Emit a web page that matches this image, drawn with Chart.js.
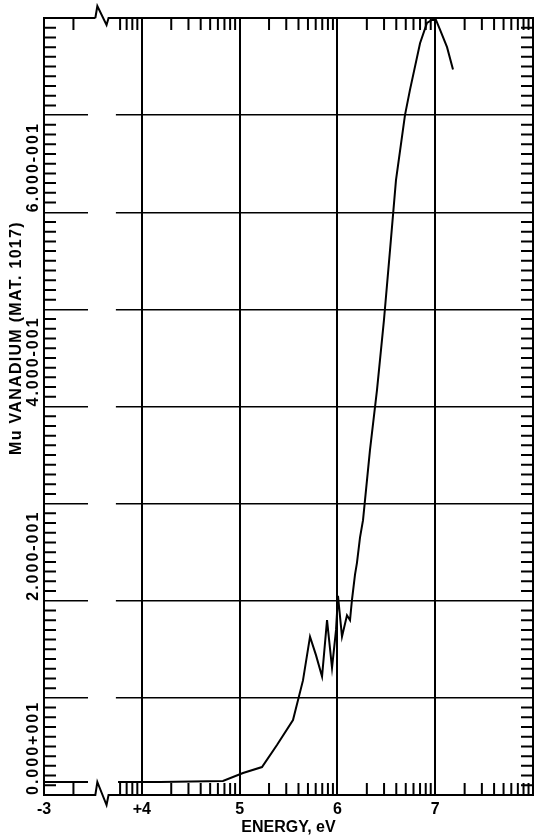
<!DOCTYPE html>
<html>
<head>
<meta charset="utf-8">
<script src="https://cdn.jsdelivr.net/npm/chart.js@4.4.1/dist/chart.umd.min.js"></script>
<style>
  html, body { margin: 0; padding: 0; background: #fff; }
  #caja { width: 536px; height: 840px; }
</style>
</head>
<body>
<div id="caja"><canvas id="myChart01"></canvas></div>
<script>
// energia en log10(eV); los valores negativos van en el tramo izquierdo (antes del corte)
var energiaIzq = [-3, -2.55];
var muIzq = [0.0134, 0.0134];

var energiaDer = [3.757, 4.186, 4.830, 5.035, 5.229, 5.382, 5.546, 5.648, 5.720, 5.781,
                  5.843, 5.894, 5.945, 5.986, 6.006, 6.047, 6.098, 6.129, 6.149, 6.180,
                  6.200, 6.231, 6.262, 6.333, 6.405, 6.476, 6.538, 6.599, 6.691, 6.742,
                  6.845, 6.916, 6.967, 7.008, 7.049, 7.121, 7.182];
var muDer = [0.0134, 0.0134, 0.0144, 0.0227, 0.0288, 0.0515, 0.0772, 0.118, 0.163, 0.144,
             0.122, 0.180, 0.131, 0.170, 0.205, 0.163, 0.185, 0.180, 0.201, 0.227,
             0.239, 0.265, 0.283, 0.355, 0.417, 0.489, 0.561, 0.633, 0.700, 0.726,
             0.774, 0.795, 0.798, 0.798, 0.788, 0.770, 0.747];

var xTickValores = [3, 4, 5, 6, 7];
var xTickEtiquetas = ['-3', '+4', '5', '6', '7'];
var yTickValores = [0, 0.2, 0.4, 0.6];
var yTickEtiquetas = ['0.000+001', '2.000-001', '4.000-001', '6.000-001'];
var tituloY = 'Mu VANADIUM (MAT. 1017)';
var tituloX = 'ENERGY, eV';

// el tramo -3 se dibuja justo antes de la decada +4
function posicion(e) {
    return e < 0 ? e + 6 : e;
}

var corteIni = 3.45, corteFin = 3.735;

var puntos = [];
for (var i = 0; i < energiaIzq.length; i++)
    puntos.push({ x: posicion(energiaIzq[i]), y: muIzq[i] });
puntos.push({ x: 3.6, y: null });
for (var j = 0; j < energiaDer.length; j++)
    puntos.push({ x: posicion(energiaDer[j]), y: muDer[j] });

var fuente = '"Liberation Sans", Arial, sans-serif';

var marcas = {
    id: 'marcas',
    beforeDatasetsDraw: function (chart) {
        var ctx = chart.ctx, a = chart.chartArea, xs = chart.scales.x;
        var x0 = xs.getPixelForValue(corteIni), x1 = xs.getPixelForValue(corteFin);
        ctx.save();
        ctx.fillStyle = '#fff';
        ctx.fillRect(x0, a.top - 2, x1 - x0, a.bottom - a.top + 4);
        ctx.restore();
    },
    afterDatasetsDraw: function (chart) {
        var ctx = chart.ctx, a = chart.chartArea, xs = chart.scales.x, ys = chart.scales.y;
        var largo = 12;
        ctx.save();
        ctx.strokeStyle = '#000';
        ctx.lineWidth = 2;
        ctx.lineCap = 'butt';

        // marcas menores del eje x (logaritmicas)
        ctx.beginPath();
        for (var d = 3; d <= 7; d++) {
            for (var k = 2; k <= 9; k++) {
                var u = d + Math.log10(k);
                if (u > corteIni - 0.03 && u < corteFin + 0.03) continue;
                var px = xs.getPixelForValue(u);
                ctx.moveTo(px, a.bottom); ctx.lineTo(px, a.bottom - largo);
                ctx.moveTo(px, a.top); ctx.lineTo(px, a.top + largo);
            }
        }
        // marcas menores del eje y
        for (var m = 1; m < 80; m++) {
            if (m % 10 === 0) continue;
            var py = ys.getPixelForValue(m / 100);
            ctx.moveTo(a.left, py); ctx.lineTo(a.left + largo, py);
            ctx.moveTo(a.right, py); ctx.lineTo(a.right - largo, py);
        }
        ctx.stroke();

        // marco con el simbolo de corte
        var xa = xs.getPixelForValue(3.525), xb = xs.getPixelForValue(3.66);
        ctx.beginPath();
        ctx.moveTo(xa, a.top);
        ctx.lineTo(a.left, a.top);
        ctx.lineTo(a.left, a.bottom);
        ctx.lineTo(xa, a.bottom);
        ctx.lineTo(xa + 2, a.bottom - 13);
        ctx.lineTo(xb - 2, a.bottom + 10);
        ctx.lineTo(xb, a.bottom);
        ctx.lineTo(a.right, a.bottom);
        ctx.lineTo(a.right, a.top);
        ctx.lineTo(xb, a.top);
        ctx.lineTo(xb - 2, a.top + 7);
        ctx.lineTo(xa + 2, a.top - 12);
        ctx.lineTo(xa, a.top);
        ctx.stroke();

        // etiquetas del eje y, giradas
        ctx.fillStyle = '#000';
        ctx.font = 'bold 16px ' + fuente;
        ctx.letterSpacing = '2px';
        ctx.textAlign = 'left';
        ctx.textBaseline = 'middle';
        for (var t = 0; t < yTickValores.length; t++) {
            var yy = ys.getPixelForValue(yTickValores[t]);
            ctx.save();
            ctx.translate(34, yy);
            ctx.rotate(-Math.PI / 2);
            ctx.fillText(yTickEtiquetas[t], 0, 0);
            ctx.restore();
        }
        ctx.letterSpacing = '1.3px';
        ctx.textAlign = 'center';
        ctx.save();
        ctx.translate(17, 338);
        ctx.rotate(-Math.PI / 2);
        ctx.fillText(tituloY, 0, 0);
        ctx.restore();
        ctx.restore();
    }
};

var ctx = document.getElementById('myChart01');
var myChart1 = new Chart(ctx, {
    type: 'line',
    data: {
        datasets: [{
            label: 'Mu',
            data: puntos,
            borderColor: '#000',
            borderWidth: 2,
            pointRadius: 0,
            tension: 0,
            spanGaps: false,
            fill: false
        }]
    },
    options: {
        responsive: true,
        maintainAspectRatio: false,
        animation: false,
        layout: { padding: { top: 18, right: 3, left: 0, bottom: 0 } },
        plugins: {
            legend: { display: false },
            tooltip: { enabled: false }
        },
        scales: {
            x: {
                type: 'linear',
                min: 3,
                max: 8,
                afterBuildTicks: function (scale) {
                    scale.ticks = xTickValores.map(function (v) { return { value: v }; });
                },
                afterFit: function (scale) { scale.height = 45; },
                ticks: {
                    color: '#000',
                    padding: 5,
                    maxRotation: 0,
                    font: { family: fuente, size: 16, weight: 'bold' },
                    callback: function (v) {
                        var n = xTickValores.indexOf(v);
                        return n >= 0 ? xTickEtiquetas[n] : '';
                    }
                },
                grid: { color: '#000', lineWidth: 2, drawTicks: false },
                border: { display: false },
                title: {
                    display: true,
                    text: tituloX,
                    color: '#000',
                    font: { family: fuente, size: 16, weight: 'bold' },
                    padding: { top: 0, bottom: 3 }
                }
            },
            y: {
                type: 'linear',
                min: 0,
                max: 0.8,
                afterFit: function (scale) { scale.width = 44; },
                ticks: { display: false, stepSize: 0.1 },
                grid: { color: '#000', lineWidth: 1.5, drawTicks: false },
                border: { display: false }
            }
        }
    },
    plugins: [marcas]
});
</script>
</body>
</html>
